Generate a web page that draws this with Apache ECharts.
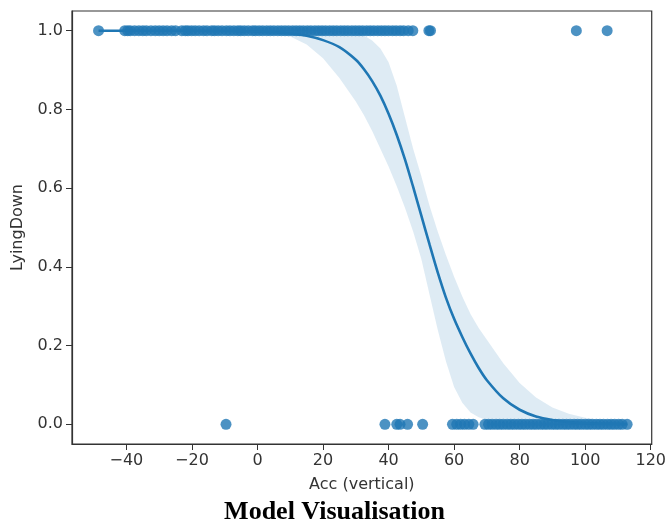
<!DOCTYPE html>
<html>
<head>
<meta charset="utf-8">
<script src="https://cdn.jsdelivr.net/npm/echarts@6/dist/echarts.min.js"></script>
<style>
  html, body { margin: 0; padding: 0; background: #fff; }
  #chart { width: 669px; height: 522px; }
</style>
</head>
<body>
<div id="chart"></div>
<script>
// observations with LyingDown = 1
var onesX = [-48.5, -40.5, -39.6, -38.8, -37.5, -36.2, -35.0, -33.9, -32.5, -31.2, -30.0, -28.8,
  -27.6, -26.2, -25.0, -23.1, -22.0, -21.2, -20.1, -19.0, -17.8, -16.5, -15.4, -14.0, -13.1,
  -12.0, -10.8, -9.5, -8.4, -7.2, -6.0, -5.1, -4.0, -2.8, -1.5, -0.6, 0.5, 1.6, 2.8, 3.9, 5.0,
  6.2, 7.3, 8.4, 9.5, 10.7, 11.8, 12.9, 14.0, 15.2, 16.3, 17.5, 18.6, 19.7, 20.8, 22.0, 23.1,
  24.2, 25.4, 26.5, 27.6, 28.8, 29.9, 31.0, 32.1, 33.3, 34.4, 35.5, 36.7, 37.8, 38.9, 40.0,
  41.2, 42.3, 43.5, 44.6, 46.0, 47.4, 52.3, 52.8, 97.3, 106.7];
// observations with LyingDown = 0
var zerosX = [-9.6, 38.9, 42.5, 43.5, 45.8, 50.4, 59.5, 60.8, 62.0, 63.2, 64.5, 65.8, 69.4,
  70.5, 71.6, 72.8, 73.9, 75.0, 76.2, 77.3, 78.4, 79.6, 80.7, 81.8, 83.0, 84.1, 85.2, 86.4,
  87.5, 88.6, 89.8, 90.9, 92.0, 93.2, 94.3, 95.4, 96.6, 97.7, 98.8, 100.0, 101.1, 102.2,
  103.4, 104.5, 105.6, 106.8, 107.9, 109.0, 110.2, 111.3, 112.8];

// fitted logistic curve and its confidence band
var curveX = [-48.5, -40, -30, -20, -10, 0, 10, 15, 20, 25, 30, 32.5, 35, 37.5, 40, 42.5, 45,
  47.5, 50, 52.5, 55, 57.5, 60, 62.5, 65, 67.5, 70, 75, 80, 85, 90, 95, 100, 105, 112.8];
var curveY = [1.0, 1.0, 1.0, 0.9998, 0.9993, 0.998, 0.993, 0.987, 0.976, 0.958, 0.926, 0.902,
  0.872, 0.835, 0.789, 0.735, 0.673, 0.603, 0.530, 0.457, 0.386, 0.322, 0.268, 0.222, 0.180,
  0.143, 0.112, 0.066, 0.037, 0.020, 0.011, 0.006, 0.003, 0.0016, 0.0006];
var ciLower = [1.0, 1.0, 0.9999, 0.9995, 0.998, 0.995, 0.985, 0.965, 0.93, 0.88, 0.82, 0.785,
  0.745, 0.70, 0.655, 0.605, 0.55, 0.49, 0.42, 0.33, 0.24, 0.16, 0.095, 0.055, 0.03, 0.018,
  0.011, 0.005, 0.002, 0.001, 0.0005, 0.0003, 0.0002, 0.0001, 0.0];
var ciUpper = [1.0, 1.0, 1.0, 1.0, 1.0, 1.0, 1.0, 1.0, 0.9995, 0.998, 0.995, 0.988, 0.975,
  0.955, 0.92, 0.86, 0.78, 0.70, 0.63, 0.555, 0.49, 0.43, 0.375, 0.325, 0.28, 0.245, 0.215,
  0.155, 0.105, 0.068, 0.043, 0.027, 0.017, 0.011, 0.005];

var xTicks = [-40, -20, 0, 20, 40, 60, 80, 100, 120];
var yTicks = [0, 0.2, 0.4, 0.6, 0.8, 1.0];

var blue = '#1f77b4';
var font = 'DejaVu Sans';

var myChart = echarts.init(document.getElementById('chart'));

function pairs(xs, ys) {
  return xs.map(function (x, i) { return [x, ys[i]]; });
}

var option = {
  animation: false,
  title: {
    text: 'Model Visualisation',
    left: 'center',
    top: 494,
    textStyle: { fontFamily: 'Liberation Serif', fontWeight: 'bold', fontSize: 26, color: '#000' }
  },
  grid: { left: 72, right: 17, top: 11, bottom: 78, show: true, borderColor: '#333', borderWidth: 1.2 },
  xAxis: {
    type: 'value',
    min: -56.6,
    max: 120.3,
    name: 'Acc (vertical)',
    nameLocation: 'middle',
    nameGap: 33,
    nameTextStyle: { fontFamily: font, fontSize: 16, color: '#333' },
    axisLine: { show: true, onZero: false, lineStyle: { color: '#333', width: 1.2 } },
    axisTick: { show: true, length: 6, customValues: xTicks, lineStyle: { color: '#333' } },
    axisLabel: {
      customValues: xTicks, margin: 9, fontFamily: font, fontSize: 16, color: '#333',
      formatter: function (v) { return String(v).replace('-', '\u2212'); }
    },
    splitLine: { show: false }
  },
  yAxis: {
    type: 'value',
    min: -0.05,
    max: 1.05,
    name: 'LyingDown',
    nameLocation: 'middle',
    nameGap: 46,
    nameTextStyle: { fontFamily: font, fontSize: 16, color: '#333' },
    axisLine: { show: true, onZero: false, lineStyle: { color: '#333', width: 1.2 } },
    axisTick: { show: true, length: 6, customValues: yTicks, lineStyle: { color: '#333' } },
    axisLabel: {
      customValues: yTicks, margin: 9, fontFamily: font, fontSize: 16, color: '#333',
      formatter: function (v) { return v.toFixed(1); }
    },
    splitLine: { show: false }
  },
  series: [
    {
      name: 'ones',
      type: 'scatter',
      symbolSize: 11,
      itemStyle: { color: blue, opacity: 0.8 },
      data: onesX.map(function (x) { return [x, 1]; }),
      z: 2
    },
    {
      name: 'zeros',
      type: 'scatter',
      symbolSize: 11,
      itemStyle: { color: blue, opacity: 0.8 },
      data: zerosX.map(function (x) { return [x, 0]; }),
      z: 2
    },
    {
      name: 'ci',
      type: 'custom',
      silent: true,
      clip: true,
      data: [[curveX[0], ciUpper[0]]],
      renderItem: function (params, api) {
        var pts = [];
        for (var i = 0; i < curveX.length; i++) pts.push(api.coord([curveX[i], ciUpper[i]]));
        for (var j = curveX.length - 1; j >= 0; j--) pts.push(api.coord([curveX[j], ciLower[j]]));
        return {
          type: 'polygon',
          shape: { points: pts },
          style: { fill: 'rgba(31,119,180,0.15)', stroke: null }
        };
      },
      z: 3
    },
    {
      name: 'fit',
      type: 'line',
      showSymbol: false,
      smooth: 0.3,
      lineStyle: { color: blue, width: 2.6 },
      data: pairs(curveX, curveY),
      z: 4
    }
  ]
};
myChart.setOption(option);
</script>
</body>
</html>
